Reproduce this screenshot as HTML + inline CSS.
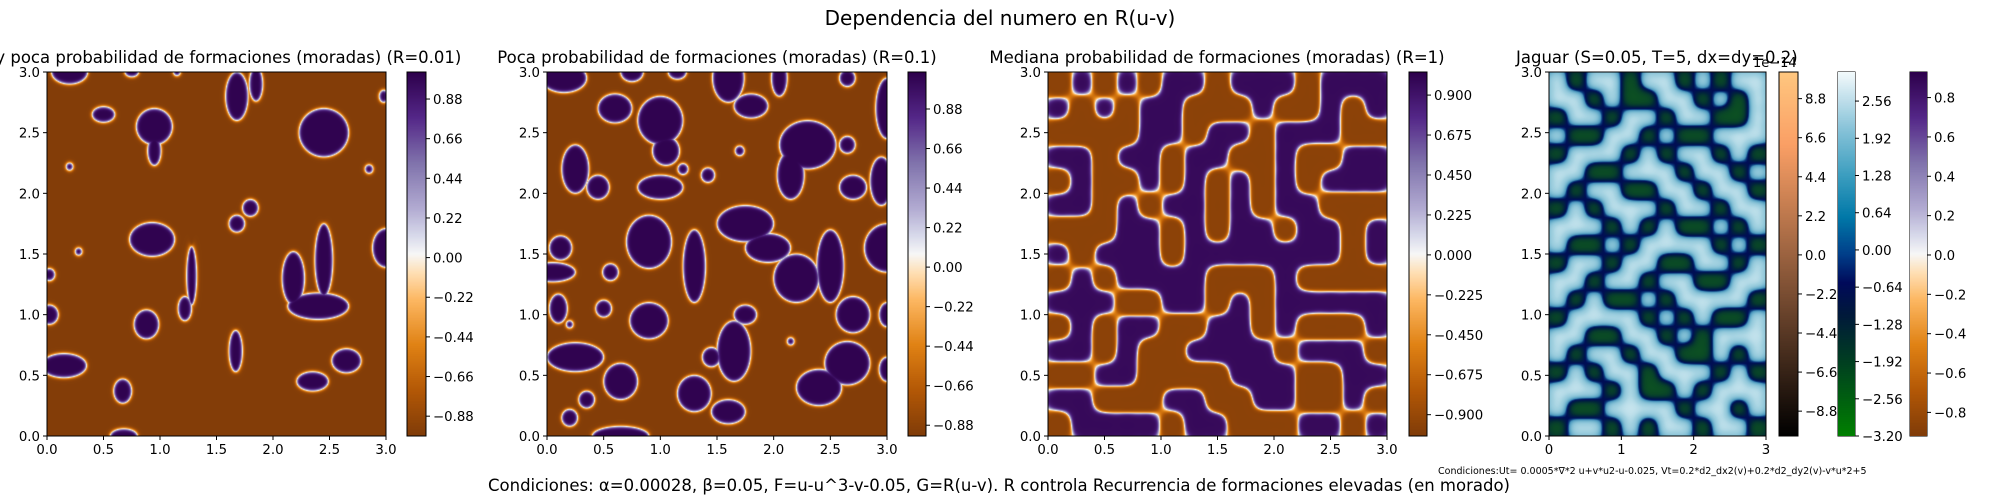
<!DOCTYPE html>
<html><head><meta charset="utf-8"><style>
html,body{margin:0;padding:0;background:#fff;}
#root{position:relative;width:2000px;height:500px;overflow:hidden;font-family:"DejaVu Sans","Liberation Sans",sans-serif;}
canvas{position:absolute;}
svg{position:absolute;left:0;top:0;}
</style></head><body>
<div id="root">
<canvas id="c1"></canvas>
<canvas id="c2"></canvas>
<canvas id="c3"></canvas>
<canvas id="c4"></canvas>
<canvas id="cb1"></canvas>
<canvas id="cb2"></canvas>
<canvas id="cb3"></canvas>
<canvas id="cb4"></canvas>
<canvas id="cb5"></canvas>
<canvas id="cb6"></canvas>
<svg id="ov" width="2000" height="500">
<text x="1000" y="25" font-size="20" text-anchor="middle">Dependencia del numero en R(u-v)</text>
<text x="216" y="63" font-size="16.5" text-anchor="middle">Muy poca probabilidad de formaciones (moradas) (R=0.01)</text>
<text x="717" y="63" font-size="16.5" text-anchor="middle">Poca probabilidad de formaciones (moradas) (R=0.1)</text>
<text x="1217" y="63" font-size="16.5" text-anchor="middle">Mediana probabilidad de formaciones (moradas) (R=1)</text>
<text x="1516" y="63" font-size="16.5">Jaguar (S=0.05, T=5, dx=dy=0.2)</text>
<text x="1753" y="67" font-size="13">1e−14</text>
<text x="1438" y="474" font-size="9.5">Condiciones:Ut= 0.0005*∇*2 u+v*u2-u-0.025, Vt=0.2*d2_dx2(v)+0.2*d2_dy2(v)-v*u*2+5</text>
<text x="999" y="491" font-size="16.5" text-anchor="middle">Condiciones: α=0.00028, β=0.05, F=u-u^3-v-0.05, G=R(u-v). R controla Recurrencia de formaciones elevadas (en morado)</text>
</svg>
</div>
<script>
// ---- data ----
const blobs1 = [[0.2,3.0,0.16,0.1],[0.5,2.65,0.1,0.065],[0.95,2.55,0.16,0.15],[0.95,2.35,0.06,0.12],[1.68,2.8,0.1,0.2],[1.85,2.9,0.06,0.14],[2.45,2.5,0.22,0.2],[0.2,2.22,0.03,0.03],[2.85,2.2,0.035,0.035],[1.68,1.75,0.07,0.07],[1.8,1.88,0.07,0.07],[0.93,1.62,0.2,0.14],[1.28,1.32,0.045,0.24],[1.22,1.05,0.06,0.1],[2.18,1.3,0.1,0.22],[2.45,1.45,0.08,0.3],[2.4,1.07,0.27,0.11],[3.0,1.55,0.12,0.16],[0.02,1.0,0.08,0.08],[0.02,1.33,0.05,0.05],[0.88,0.92,0.11,0.12],[0.15,0.58,0.2,0.1],[1.67,0.7,0.06,0.17],[2.35,0.45,0.14,0.08],[2.65,0.62,0.13,0.1],[0.67,0.37,0.08,0.1],[0.68,0.0,0.12,0.06],[0.75,3.0,0.06,0.04],[1.15,3.0,0.03,0.03],[2.98,2.8,0.04,0.05],[0.28,1.52,0.03,0.03]];
const blobs2 = [[0.15,2.95,0.2,0.12],[0.75,3.0,0.1,0.08],[1.15,3.0,0.08,0.06],[0.6,2.7,0.15,0.12],[1.0,2.6,0.2,0.2],[1.05,2.35,0.12,0.12],[1.6,2.95,0.14,0.2],[1.8,2.72,0.15,0.1],[2.05,2.95,0.07,0.15],[2.65,2.95,0.07,0.07],[3.0,2.7,0.1,0.25],[0.25,2.2,0.12,0.2],[0.45,2.05,0.1,0.1],[1.0,2.05,0.2,0.1],[1.2,2.2,0.045,0.045],[1.42,2.15,0.06,0.06],[1.7,2.35,0.04,0.04],[2.3,2.4,0.25,0.2],[2.15,2.15,0.12,0.2],[2.65,2.4,0.07,0.07],[2.7,2.05,0.12,0.1],[2.95,2.1,0.1,0.2],[0.9,1.6,0.2,0.22],[1.3,1.4,0.1,0.3],[0.12,1.55,0.1,0.1],[0.05,1.35,0.2,0.08],[0.1,1.05,0.08,0.12],[0.56,1.35,0.07,0.07],[0.5,1.05,0.07,0.07],[0.9,0.95,0.17,0.15],[1.75,1.75,0.25,0.15],[1.95,1.55,0.2,0.12],[2.2,1.3,0.2,0.2],[2.5,1.4,0.12,0.3],[2.7,1.0,0.15,0.15],[2.65,0.6,0.2,0.18],[2.4,0.4,0.2,0.15],[1.75,1.0,0.1,0.08],[1.65,0.7,0.15,0.25],[1.45,0.65,0.08,0.08],[3.0,1.55,0.2,0.2],[3.0,1.0,0.07,0.1],[3.0,0.55,0.07,0.1],[0.25,0.65,0.25,0.12],[0.65,0.45,0.15,0.15],[0.35,0.3,0.07,0.07],[0.2,0.15,0.07,0.07],[0.65,0.0,0.25,0.08],[1.3,0.35,0.15,0.15],[1.6,0.2,0.15,0.1],[0.2,0.92,0.03,0.03],[2.15,0.78,0.03,0.03]];
const grid3 = ["010101101110111","101011000100101","000011011011100","110110110010011","010010101010111","110101101011000","000110101101101","101110111111101","010111100010000","111001101011111","010110011010001","110100111101110","001100001110011","110001100110010","011110110001101"];
const grid4 = ["101101101011","110100110101","011011011001","100110100111","011101011010","110011101101","101100110110","010111011011","111010100101","100101111010","011011001101","110110110011","101001011110","011110101001","110011010111","101101100101","010110111010","111010010111","100111101101","011010110110"];
const yTicks = [0.0,0.5,1.0,1.5,2.0,2.5,3.0];
const xTicks = [0.0,0.5,1.0,1.5,2.0,2.5,3.0];
const xTicks4 = [0,1,2,3];
const cbTicks1 = [0.88,0.66,0.44,0.22,0.00,-0.22,-0.44,-0.66,-0.88];
const cbTicks3 = [0.9,0.675,0.45,0.225,0.0,-0.225,-0.45,-0.675,-0.9];
const cbTicksCopper = [8.8,6.6,4.4,2.2,0.0,-2.2,-4.4,-6.6,-8.8];
const cbTicksOcean = [2.56,1.92,1.28,0.64,0.00,-0.64,-1.28,-1.92,-2.56,-3.20];
const cbTicksP4 = [0.8,0.6,0.4,0.2,0.0,-0.2,-0.4,-0.6,-0.8];

// ---- layout ----
const T=72,B=436;
const panels=[{l:47,r:386},{l:547,r:887},{l:1048,r:1387},{l:1549,r:1766}];
const cbars=[{l:407,r:426,vmin:-0.99,vmax:1.03,ticks:cbTicks1,dec:2,cm:'puor'},
 {l:908,r:926,vmin:-0.94,vmax:1.086,ticks:cbTicks1,dec:2,cm:'puor'},
 {l:1409,r:1427,vmin:-1.02,vmax:1.03,ticks:cbTicks3,dec:3,cm:'puor'},
 {l:1779,r:1798,vmin:-10.2,vmax:10.3,ticks:cbTicksCopper,dec:1,cm:'copper'},
 {l:1838,r:1855,vmin:-3.2,vmax:3.06,ticks:cbTicksOcean,dec:2,cm:'ocean'},
 {l:1910,r:1927,vmin:-0.92,vmax:0.93,ticks:cbTicksP4,dec:1,cm:'puor'}];

function hex(h){return [parseInt(h.substr(1,2),16),parseInt(h.substr(3,2),16),parseInt(h.substr(5,2),16)];}
function mk(stops){const s=stops.map(p=>[p[0],hex(p[1])]);return function(t){t=Math.max(0,Math.min(1,t));for(let i=1;i<s.length;i++){if(t<=s[i][0]){const a=s[i-1],b=s[i],f=(t-a[0])/(b[0]-a[0]||1);return [a[1][0]+(b[1][0]-a[1][0])*f,a[1][1]+(b[1][1]-a[1][1])*f,a[1][2]+(b[1][2]-a[1][2])*f];}}return s[s.length-1][1];};}
const CM={
 puor:mk([[0,'#7f3b08'],[0.125,'#b35806'],[0.25,'#e08214'],[0.375,'#fdb863'],[0.45,'#fee0b6'],[0.5,'#f7f7f7'],[0.55,'#d8daeb'],[0.625,'#b2abd2'],[0.75,'#8073ac'],[0.875,'#542788'],[1,'#2d004b']]),
 copper:mk([[0,'#000000'],[0.5,'#9c6340'],[0.8,'#fa9f65'],[1,'#ffc77f']]),
 ocean:mk([[0,'#008000'],[0.2,'#004020'],[0.33,'#001a3a'],[0.42,'#000a5a'],[0.5,'#003f8a'],[0.6,'#0078a8'],[0.72,'#3e9fc0'],[0.85,'#8cc5da'],[1,'#f4fafc']]),
 jag:mk([[0,'#0d5420'],[0.2,'#01263a'],[0.4,'#000d55'],[0.5,'#0a3d80'],[0.6,'#4a98be'],[0.78,'#7dbcd3'],[0.92,'#a3d2e1'],[1,'#d6ecf3']])
};

function blobField(bl,x,y){let s=-1;for(const b of bl){const nx=(x-b[0])/b[2],ny=(y-b[1])/b[3];const d=Math.sqrt(nx*nx+ny*ny)+1e-9;const g=Math.sqrt((nx/b[2])*(nx/b[2])+(ny/b[3])*(ny/b[3]))/d;const v=(1-d)/g;if(v>s)s=v;}return s;}
function gridField(g,x,y,sig){const rows=g.length,cols=g[0].length;const cw=3/cols,ch=3/rows;let num=0;
 for(let r=0;r<rows;r++){const cy=3-(r+0.5)*ch;const dy=(y-cy)/ch;if(Math.abs(dy)>3.5)continue;
  for(let c=0;c<cols;c++){const cx=(c+0.5)*cw;const dx=(x-cx)/cw;if(Math.abs(dx)>3.5)continue;const k=Math.exp(-(dx*dx+dy*dy)/(sig*sig));num+=k*(g[r][c]==='1'?0.5:-0.5);}}
 return num;}

function renderPanel(id,p,fn,cm){const c=document.getElementById(id);const w=p.r-p.l,h=B-T;c.width=w;c.height=h;c.style.left=p.l+'px';c.style.top=T+'px';
 const ctx=c.getContext('2d');const im=ctx.createImageData(w,h);
 for(let j=0;j<h;j++)for(let i=0;i<w;i++){const x=3*(i+0.5)/w,y=3*(1-(j+0.5)/h);const t=fn(x,y);const col=cm(t);const o=(j*w+i)*4;im.data[o]=col[0];im.data[o+1]=col[1];im.data[o+2]=col[2];im.data[o+3]=255;}
 ctx.putImageData(im,0,0);}

renderPanel('c1',panels[0],(x,y)=>0.5+0.49*Math.tanh(blobField(blobs1,x,y)/0.016),CM.puor);
renderPanel('c2',panels[1],(x,y)=>0.5+0.49*Math.tanh(blobField(blobs2,x,y)/0.016),CM.puor);
renderPanel('c3',panels[2],(x,y)=>0.5+0.47*Math.tanh((gridField(grid3,x,y,0.62)-0.08)*9),CM.puor);
renderPanel('c4',panels[3],(x,y)=>{const f=gridField(grid4,x,y,0.66)-0.08;return 0.5+0.5*Math.tanh(f*3);},CM.jag);

const ids=['cb1','cb2','cb3','cb4','cb5','cb6'];
cbars.forEach((cb,k)=>{const c=document.getElementById(ids[k]);const w=cb.r-cb.l,h=B-T;c.width=w;c.height=h;c.style.left=cb.l+'px';c.style.top=T+'px';
 const ctx=c.getContext('2d');for(let j=0;j<h;j++){const col=CM[cb.cm](1-(j+0.5)/h);ctx.fillStyle='rgb('+col.map(Math.round).join(',')+')';ctx.fillRect(0,j,w,1);}
});

const NS='http://www.w3.org/2000/svg';const ov=document.getElementById('ov');
function el(tag,attrs,txt){const e=document.createElementNS(NS,tag);for(const k in attrs)e.setAttribute(k,attrs[k]);if(txt!==undefined)e.textContent=txt;ov.appendChild(e);return e;}
function fmt(v,d){const s=Math.abs(v).toFixed(d);return (v<-1e-9?'−':'')+s;}
panels.forEach((p,k)=>{
 const fr=el('rect',{x:p.l,y:T,width:p.r-p.l,height:B-T,fill:'none',stroke:'#000','stroke-width':1});
 
 
 const sx=v=>p.l+v/3*(p.r-p.l), sy=v=>B-v/3*(B-T);
 const xt=k===3?xTicks4:xTicks;
 xt.forEach(v=>{const X=sx(v);
  const t=el('line',{x1:X,x2:X,y1:B,y2:B+4,stroke:'#000'});
  
  
  const l=el('text',{x:X,y:B+18,'font-size':13.3,'text-anchor':'middle'},k===3?String(v):v.toFixed(1));
  
  });
 yTicks.forEach(v=>{const Y=sy(v);
  const t=el('line',{x1:p.l-4,x2:p.l,y1:Y,y2:Y,stroke:'#000'});
  
  
  const l=el('text',{x:p.l-7,y:Y+5,'font-size':13.3,'text-anchor':'end'},v.toFixed(1));
  
  });
});
cbars.forEach(cb=>{
 const fr=el('rect',{x:cb.l,y:T,width:cb.r-cb.l,height:B-T,fill:'none',stroke:'#000','stroke-width':1});
 
 
 cb.ticks.forEach(v=>{const Y=T+(cb.vmax-v)/(cb.vmax-cb.vmin)*(B-T);
  const t=el('line',{x1:cb.r,x2:cb.r+4,y1:Y,y2:Y,stroke:'#000'});
  
  
  const l=el('text',{x:cb.r+7,y:Y+5,'font-size':13.3},fmt(v,cb.dec));
  
  });
});
['cb5','cb6'].forEach(id=>{const c=document.getElementById(id);c.style.zIndex=2;});
</script>
</body></html>
